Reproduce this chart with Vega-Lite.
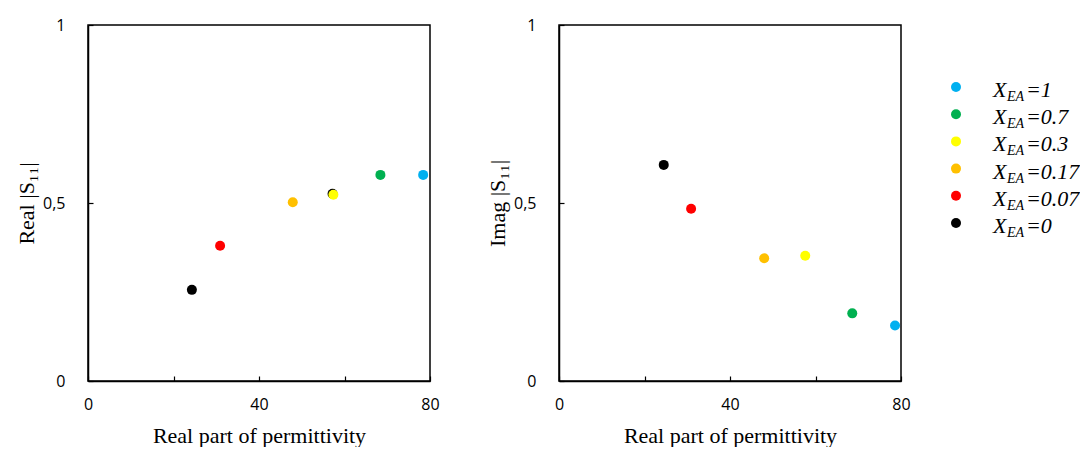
{
  "$schema": "https://vega.github.io/schema/vega-lite/v6.json",
  "background": "white",
  "padding": {"top": 16, "left": 14, "right": 0, "bottom": 0},
  "datasets": {
    "pts": [
      {"xea": "0", "panel": "Real", "eps": 24.3, "s": 0.256},
      {"xea": "0.07", "panel": "Real", "eps": 30.9, "s": 0.380},
      {"xea": "0.17", "panel": "Real", "eps": 47.9, "s": 0.502},
      {"xea": "0", "panel": "Real", "eps": 57.2, "s": 0.526},
      {"xea": "0.3", "panel": "Real", "eps": 57.4, "s": 0.523},
      {"xea": "0.7", "panel": "Real", "eps": 68.4, "s": 0.579},
      {"xea": "1", "panel": "Real", "eps": 78.4, "s": 0.579},
      {"xea": "0", "panel": "Imag", "eps": 24.5, "s": 0.607},
      {"xea": "0.07", "panel": "Imag", "eps": 30.9, "s": 0.484},
      {"xea": "0.17", "panel": "Imag", "eps": 48.0, "s": 0.345},
      {"xea": "0.3", "panel": "Imag", "eps": 57.6, "s": 0.352},
      {"xea": "0.7", "panel": "Imag", "eps": 68.6, "s": 0.190},
      {"xea": "1", "panel": "Imag", "eps": 78.6, "s": 0.156}
    ],
    "leg": [
      {"xea": "1"}, {"xea": "0.7"}, {"xea": "0.3"}, {"xea": "0.17"}, {"xea": "0.07"}, {"xea": "0"}
    ]
  },
  "config": {
    "view": {"stroke": "black", "strokeWidth": 1.5},
    "axis": {
      "grid": false,
      "labelFlush": false,
      "domainColor": "black",
      "domainWidth": 1.5,
      "tickColor": "black",
      "tickWidth": 1.2,
      "tickSize": -5,
      "labelFont": "Open Sans",
      "labelFontSize": 16,
      "labelColor": "black",
      "titleFont": "Liberation Serif",
      "titleFontSize": 22,
      "titleFontWeight": "normal",
      "titleColor": "black"
    }
  },
  "spacing": 40,
  "hconcat": [
    {
      "spacing": 45,
      "hconcat": [
        {
          "width": 342,
          "height": 356,
          "data": {"name": "pts"},
          "transform": [{"filter": "datum.panel == 'Real'"}],
          "mark": {"type": "circle", "opacity": 1},
          "encoding": {
            "x": {"field": "eps", "type": "quantitative", "scale": {"domain": [0, 80], "nice": false},
                  "axis": {"title": "Real part of permittivity", "values": [0, 20, 40, 60, 80], "labelExpr": "datum.value % 40 == 0 ? datum.label : ''", "labelPadding": 20, "titlePadding": 13}},
            "y": {"field": "s", "type": "quantitative", "scale": {"domain": [0, 1], "nice": false},
                  "axis": {"title": "Real  |S₁₁|", "values": [0, 0.5, 1], "format": "~g", "labelExpr": "replace(datum.label, '.', ',')", "labelPadding": 28, "titlePadding": 4}},
            "color": {"field": "xea", "type": "nominal", "legend": null,
                      "scale": {"domain": ["1", "0.7", "0.3", "0.17", "0.07", "0"], "range": ["#00B0F0", "#00B050", "#FFFF00", "#FFC000", "#FF0000", "#000000"]}},
            "size": {"field": "xea", "type": "nominal", "legend": null,
                     "scale": {"domain": ["1", "0.7", "0.3", "0.17", "0.07", "0"], "range": [100, 100, 100, 100, 100, 60]}}
          }
        },
        {
          "width": 342,
          "height": 356,
          "data": {"name": "pts"},
          "transform": [{"filter": "datum.panel == 'Imag'"}],
          "mark": {"type": "circle", "opacity": 1},
          "encoding": {
            "x": {"field": "eps", "type": "quantitative", "scale": {"domain": [0, 80], "nice": false},
                  "axis": {"title": "Real part of permittivity", "values": [0, 20, 40, 60, 80], "labelExpr": "datum.value % 40 == 0 ? datum.label : ''", "labelPadding": 20, "titlePadding": 13}},
            "y": {"field": "s", "type": "quantitative", "scale": {"domain": [0, 1], "nice": false},
                  "axis": {"title": "Imag  |S₁₁|", "values": [0, 0.5, 1], "format": "~g", "labelExpr": "replace(datum.label, '.', ',')", "labelPadding": 28, "titlePadding": 4}},
            "color": {"field": "xea", "type": "nominal", "legend": null,
                      "scale": {"domain": ["1", "0.7", "0.3", "0.17", "0.07", "0"], "range": ["#00B0F0", "#00B050", "#FFFF00", "#FFC000", "#FF0000", "#000000"]}},
            "size": {"field": "xea", "type": "nominal", "legend": null,
                     "scale": {"domain": ["1", "0.7", "0.3", "0.17", "0.07", "0"], "range": [100, 100, 100, 100, 100, 60]}}
          }
        }
      ]
    },
    {
      "width": 125,
      "height": 356,
      "view": {"stroke": null},
      "data": {"name": "leg"},
      "transform": [{"calculate": "'=' + datum.xea", "as": "rest"}],
      "encoding": {
        "y": {"field": "xea", "type": "nominal", "sort": ["1", "0.7", "0.3", "0.17", "0.07", "0"],
              "scale": {"type": "point", "range": [62, 198], "padding": 0}, "axis": null}
      },
      "layer": [
        {
          "mark": {"type": "circle", "opacity": 1},
          "encoding": {
            "x": {"value": 5},
            "color": {"field": "xea", "type": "nominal", "legend": null,
                      "scale": {"domain": ["1", "0.7", "0.3", "0.17", "0.07", "0"], "range": ["#00B0F0", "#00B050", "#FFFF00", "#FFC000", "#FF0000", "#000000"]}},
            "size": {"field": "xea", "type": "nominal", "legend": null,
                     "scale": {"domain": ["1", "0.7", "0.3", "0.17", "0.07", "0"], "range": [110, 110, 110, 110, 110, 75]}}
          }
        },
        {
          "mark": {"type": "text", "text": "X", "font": "Liberation Serif", "fontStyle": "italic", "fontSize": 22, "align": "left", "baseline": "alphabetic", "dy": 10, "color": "black"},
          "encoding": {"x": {"value": 42}}
        },
        {
          "mark": {"type": "text", "text": "EA", "font": "Liberation Serif", "fontStyle": "italic", "fontSize": 14, "align": "left", "baseline": "alphabetic", "dy": 14, "color": "black"},
          "encoding": {"x": {"value": 56}}
        },
        {
          "mark": {"type": "text", "font": "Liberation Serif", "fontStyle": "italic", "fontSize": 22, "align": "left", "baseline": "alphabetic", "dy": 10, "color": "black"},
          "encoding": {"x": {"value": 75}, "text": {"field": "rest", "type": "nominal"}}
        }
      ]
    }
  ]
}
